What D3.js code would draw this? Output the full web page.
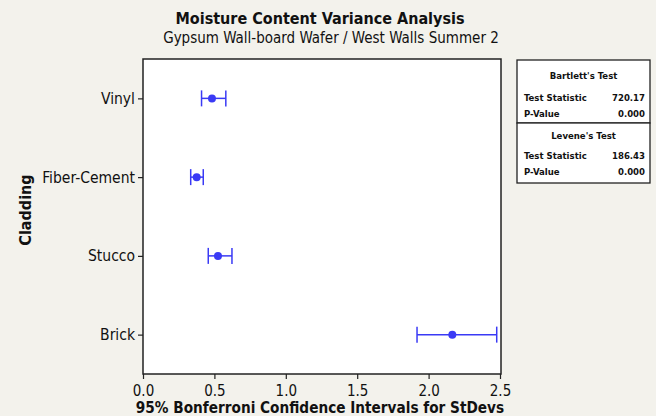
<!DOCTYPE html>
<html><head><meta charset="utf-8">
<script src="https://cdn.jsdelivr.net/npm/d3@7"></script>
<style>
html,body{margin:0;padding:0;background:#f3f2ec;}
svg{display:block;font-family:"DejaVu Sans Condensed","DejaVu Sans",sans-serif;}
</style></head><body>
<svg id="chart" width="656" height="416"></svg>
<script>
const categories = ["Vinyl", "Fiber-Cement", "Stucco", "Brick"];
const stdevEst = [0.483, 0.376, 0.525, 2.166];
const ciLower = [0.41, 0.334, 0.457, 1.919];
const ciUpper = [0.58, 0.422, 0.623, 2.477];
const xTicks = [0, 0.5, 1.0, 1.5, 2.0, 2.5];
const bartlett = [["Test Statistic", "720.17"], ["P-Value", "0.000"]];
const levene = [["Test Statistic", "186.43"], ["P-Value", "0.000"]];

const svg = d3.select("#chart");
const m = {l: 143, r: 501, t: 59, b: 374};
const x = d3.scaleLinear().domain([0, 2.5]).range([m.l, m.r - 1]);
const y = d3.scalePoint().domain(categories).range([m.t, m.b]).padding(0.5);
const blue = "#3a3af5";

svg.append("rect").attr("width", 656).attr("height", 416).attr("fill", "#f3f2ec");
svg.append("rect").attr("x", m.l).attr("y", m.t).attr("width", m.r - m.l).attr("height", m.b - m.t)
  .attr("fill", "#fff").attr("stroke", "#222").attr("stroke-width", 1.5);

// titles
svg.append("text").attr("x", 320).attr("y", 24).attr("text-anchor", "middle")
  .attr("font-weight", "bold").attr("font-size", 16).attr("fill", "#111").text("Moisture Content Variance Analysis");
svg.append("text").attr("x", 331).attr("y", 43).attr("text-anchor", "middle")
  .attr("font-size", 15).attr("fill", "#111").text("Gypsum Wall-board Wafer / West Walls Summer 2");

// axes
const xAxis = d3.axisBottom(x).tickValues(xTicks).tickFormat(d3.format(".1f")).tickSize(5).tickSizeOuter(0);
const gx = svg.append("g").attr("transform", `translate(0,${m.b})`).call(xAxis);
gx.select(".domain").remove();
gx.selectAll("line").attr("stroke", "#222").attr("stroke-width", 1.2);
gx.selectAll("text").attr("font-size", 15).attr("fill", "#111").attr("dy", "0.9em").attr("font-family", "DejaVu Sans Condensed");

const yAxis = d3.axisLeft(y).tickSize(5).tickSizeOuter(0);
const gy = svg.append("g").attr("transform", `translate(${m.l},0)`).call(yAxis);
gy.select(".domain").remove();
gy.selectAll("line").attr("stroke", "#222").attr("stroke-width", 1.2);
gy.selectAll("text").attr("font-size", 15.5).attr("fill", "#111").attr("font-family", "DejaVu Sans Condensed");

svg.append("text").attr("x", 320).attr("y", 413).attr("text-anchor", "middle")
  .attr("font-weight", "bold").attr("font-size", 15.2).attr("fill", "#111")
  .text("95% Bonferroni Confidence Intervals for StDevs");
svg.append("text").attr("transform", "translate(31,210) rotate(-90)").attr("text-anchor", "middle")
  .attr("font-weight", "bold").attr("font-size", 16).attr("fill", "#111").text("Cladding");

// intervals
const rows = categories.map((c, i) => ({c, e: stdevEst[i], lo: ciLower[i], hi: ciUpper[i]}));
const g = svg.append("g");
g.selectAll(".ci").data(rows).join("line")
  .attr("x1", d => x(d.lo)).attr("x2", d => x(d.hi))
  .attr("y1", d => y(d.c)).attr("y2", d => y(d.c))
  .attr("stroke", blue).attr("stroke-width", 1.5);
["lo", "hi"].forEach(k => {
  g.selectAll(".cap" + k).data(rows).join("line")
    .attr("x1", d => x(d[k])).attr("x2", d => x(d[k]))
    .attr("y1", d => y(d.c) - 8).attr("y2", d => y(d.c) + 8)
    .attr("stroke", blue).attr("stroke-width", 1.5);
});
g.selectAll("circle").data(rows).join("circle")
  .attr("cx", d => x(d.e)).attr("cy", d => y(d.c)).attr("r", 4).attr("fill", blue);

// stats boxes
function statBox(top, h, titleDy, rowDy, title, data) {
  const bx = 517, bw = 133;
  svg.append("rect").attr("x", bx).attr("y", top).attr("width", bw).attr("height", h)
    .attr("fill", "#fff").attr("stroke", "#222").attr("stroke-width", 1.3);
  svg.append("text").attr("x", bx + bw / 2).attr("y", top + titleDy).attr("text-anchor", "middle")
    .attr("font-size", 9.5).attr("font-weight", "bold").attr("fill", "#111").text(title);
  data.forEach((r, i) => {
    const yy = top + rowDy + i * 16;
    svg.append("text").attr("x", bx + 7).attr("y", yy).attr("font-size", 9.5).attr("font-weight", "bold")
      .attr("fill", "#111").text(r[0]);
    svg.append("text").attr("x", bx + bw - 5).attr("y", yy).attr("text-anchor", "end")
      .attr("font-size", 9.5).attr("font-weight", "bold").attr("fill", "#111").text(r[1]);
  });
}
statBox(60, 63, 19, 41, "Bartlett's Test", bartlett);
statBox(123, 60, 16, 36, "Levene's Test", levene);
</script>
</body></html>
